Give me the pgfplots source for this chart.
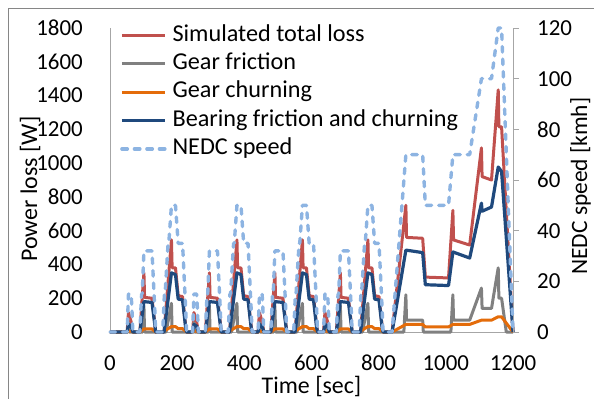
\documentclass[border=0pt]{standalone}
\usepackage{fontspec}
\setmainfont{Carlito}
\usepackage{pgfplots}
\pgfplotsset{compat=1.18}
\definecolor{cRed}{RGB}{192,80,77}
\definecolor{cGray}{RGB}{128,128,128}
\definecolor{cOrange}{RGB}{228,108,10}
\definecolor{cBlue}{RGB}{31,73,125}
\definecolor{cLight}{RGB}{141,180,226}
\definecolor{axisgray}{RGB}{166,166,166}
\definecolor{bordergray}{RGB}{134,134,134}
\pgfplotsset{
  lossred/.style={draw=cRed, line width=3bp, line join=round},
  lossgray/.style={draw=cGray, line width=3bp, line join=round},
  lossorange/.style={draw=cOrange, line width=3bp, line join=round},
  lossblue/.style={draw=cBlue, line width=3.2bp, line join=round},
  speedline/.style={draw=cLight, line width=3.4bp, line cap=round, line join=round, dash pattern=on 5.5bp off 7bp},
}
\begin{document}
\begin{tikzpicture}[font=\fontsize{23}{27.6}\selectfont]
\begin{axis}[
  at={(0,0)}, anchor=south west, scale only axis,
  width=403bp, height=304bp,
  xmin=0, xmax=1200, ymin=0, ymax=1800,
  axis x line*=bottom, axis y line*=left,
  axis line style={draw=axisgray, line width=0.75bp},
  xtick={0,200,...,1200}, ytick={0,200,...,1800},
  major tick length=0pt,
  /pgf/number format/assume math mode=true,
  /pgf/number format/1000 sep={},
  yticklabel style={inner sep=0pt, xshift=-27bp},
  xticklabel style={inner sep=0pt, yshift=-23bp},
  xlabel={Time [sec]}, ylabel={Power loss [W]},
  label style={font=\fontsize{24}{28}\selectfont},
  xlabel style={at={(axis description cs:0.5,-0.178)}, anchor=center, inner sep=0pt},
  ylabel style={at={(axis description cs:-0.1985,0.47)}, anchor=center, inner sep=0pt},
  clip=false,
]
% Simulated total loss
\addplot[lossred] coordinates {
(0,0) (51,0) (55,115) (63,60) (68,0) (89,0) (101,350) (103,205) (125,200) (133,60) (136,0)
(161,0) (183,545) (185,380) (195,380) (203,215) (216,210) (225,40) (228,0)
(246,0) (250,115) (258,60) (263,0) (284,0) (296,350) (298,205) (320,200) (328,60) (331,0)
(356,0) (378,545) (380,380) (390,380) (398,215) (411,210) (420,40) (423,0)
(441,0) (445,115) (453,60) (458,0) (479,0) (491,350) (493,205) (515,200) (523,60) (526,0)
(551,0) (573,545) (575,380) (585,380) (593,215) (606,210) (615,40) (618,0)
(636,0) (640,115) (648,60) (653,0) (674,0) (686,350) (688,205) (710,200) (718,60) (721,0)
(746,0) (768,545) (770,380) (780,380) (788,215) (801,210) (810,40) (813,0)
(840,0) (881,750) (883,560) (931,555) (939,325) (1008,320) (1021,720) (1023,545) (1071,515)
(1106,1090) (1108,920) (1136,900) (1156,1433) (1158,1215) (1166,1215) (1200,0)
};
% Gear friction
\addplot[lossgray] coordinates {
(0,0) (53,0) (55,55) (57,0) (98,0) (101,155) (103,0) (167,0) (183,170) (185,0)
(248,0) (250,55) (252,0) (293,0) (296,155) (298,0) (362,0) (378,170) (380,0)
(443,0) (445,55) (447,0) (488,0) (491,155) (493,0) (557,0) (573,170) (575,0)
(638,0) (640,55) (642,0) (683,0) (686,155) (688,0) (752,0) (768,170) (770,0)
(875,0) (881,220) (883,70) (931,70) (933,0) (1015,0) (1021,220) (1023,70) (1071,70)
(1106,260) (1108,140) (1136,140) (1156,380) (1158,200) (1166,200) (1180,0) (1200,0)
};
% Gear churning
\addplot[lossorange] coordinates {
(0,0) (51,0) (55,5) (63,5) (68,0) (89,0) (101,18) (125,18) (136,0) (157,0) (183,32) (195,32) (203,20) (216,20) (228,0)
(246,0) (250,5) (258,5) (263,0) (284,0) (296,18) (320,18) (331,0) (352,0) (378,32) (390,32) (398,20) (411,20) (423,0)
(441,0) (445,5) (453,5) (458,0) (479,0) (491,18) (515,18) (526,0) (547,0) (573,32) (585,32) (593,20) (606,20) (618,0)
(636,0) (640,5) (648,5) (653,0) (674,0) (686,18) (710,18) (721,0) (742,0) (768,32) (780,32) (788,20) (801,20) (813,0)
(840,0) (881,45) (931,45) (939,30) (1008,30) (1021,45) (1071,45) (1106,70) (1136,70) (1156,90) (1166,90) (1200,0)
};
% Bearing friction and churning
\addplot[lossblue] coordinates {
(0,0) (51,0) (55,45) (63,35) (68,0) (89,0) (101,180) (125,175) (133,50) (136,0)
(161,0) (183,350) (195,340) (203,195) (216,190) (225,30) (228,0)
(246,0) (250,45) (258,35) (263,0) (284,0) (296,180) (320,175) (328,50) (331,0)
(356,0) (378,350) (390,340) (398,195) (411,190) (420,30) (423,0)
(441,0) (445,45) (453,35) (458,0) (479,0) (491,180) (515,175) (523,50) (526,0)
(551,0) (573,350) (585,340) (593,195) (606,190) (615,30) (618,0)
(636,0) (640,45) (648,35) (653,0) (674,0) (686,180) (710,175) (718,50) (721,0)
(746,0) (768,350) (780,340) (788,195) (801,190) (810,30) (813,0)
(840,0) (881,485) (931,470) (939,280) (1008,275) (1021,474) (1071,438)
(1106,763) (1108,715) (1136,740) (1156,977) (1166,950) (1200,0)
};
\end{axis}
\begin{axis}[
  at={(0,0)}, anchor=south west, scale only axis,
  width=403bp, height=304bp,
  xmin=0, xmax=1200, ymin=0, ymax=120,
  axis x line=none, axis y line*=right,
  axis line style={draw=axisgray, line width=0.75bp},
  ytick={0,20,...,120},
  tick align=outside, major tick length=6bp,
  tick style={draw=axisgray, line width=0.75bp},
  /pgf/number format/assume math mode=true,
  yticklabel style={anchor=west, inner sep=0pt, xshift=18bp},
  ylabel={NEDC speed [kmh]},
  label style={font=\fontsize{23.5}{28}\selectfont},
  ylabel style={at={(axis description cs:1.1675,0.48)}, anchor=center, inner sep=0pt},
  clip=false,
  legend cell align=left,
  legend image code/.code={\draw[#1] (0bp,0bp) -- (43bp,0bp);},
  legend style={at={(axis description cs:0.0248,1.01)}, anchor=north west,
    draw=none, fill=none, inner sep=0pt, row sep=7.3bp,
    font=\fontsize{24.3}{28}\selectfont,
    nodes={inner sep=0pt, text height=16bp, text depth=5bp},
    /tikz/every odd column/.append style={column sep=6bp}},
]
\addlegendimage{lossred}
\addlegendentry{Simulated total loss}
\addlegendimage{lossgray}
\addlegendentry{Gear friction}
\addlegendimage{lossorange}
\addlegendentry{Gear churning}
\addlegendimage{lossblue}
\addlegendentry{Bearing friction and churning}
\addplot[speedline] coordinates {
(0,0) (51,0) (55,15) (63,15) (65,10) (68,0) (89,0) (94,15) (96,15) (101,32) (125,32) (133,10) (136,0)
(157,0) (162,15) (164,15) (173,35) (175,35) (183,50) (195,50) (203,35) (216,35) (225,10) (228,0)
(246,0) (250,15) (258,15) (260,10) (263,0) (284,0) (289,15) (291,15) (296,32) (320,32) (328,10) (331,0)
(352,0) (357,15) (359,15) (368,35) (370,35) (378,50) (390,50) (398,35) (411,35) (420,10) (423,0)
(441,0) (445,15) (453,15) (455,10) (458,0) (479,0) (484,15) (486,15) (491,32) (515,32) (523,10) (526,0)
(547,0) (552,15) (554,15) (563,35) (565,35) (573,50) (585,50) (593,35) (606,35) (615,10) (618,0)
(636,0) (640,15) (648,15) (650,10) (653,0) (674,0) (679,15) (681,15) (686,32) (710,32) (718,10) (721,0)
(742,0) (747,15) (749,15) (758,35) (760,35) (768,50) (780,50) (788,35) (801,35) (810,10) (813,0)
(840,0) (881,70) (931,70) (939,50) (1008,50) (1021,70) (1071,70) (1106,100) (1136,100)
(1156,120) (1166,120) (1200,0)
};
\addlegendentry{NEDC speed}
\end{axis}
\draw[draw=bordergray, line width=0.75bp] (-102bp,-67bp) -- (-102bp,324bp) -- (484bp,324bp);
\pgfresetboundingbox
\path[use as bounding box] (-110bp,-67bp) rectangle (484bp,332bp);
\end{tikzpicture}
\end{document}
